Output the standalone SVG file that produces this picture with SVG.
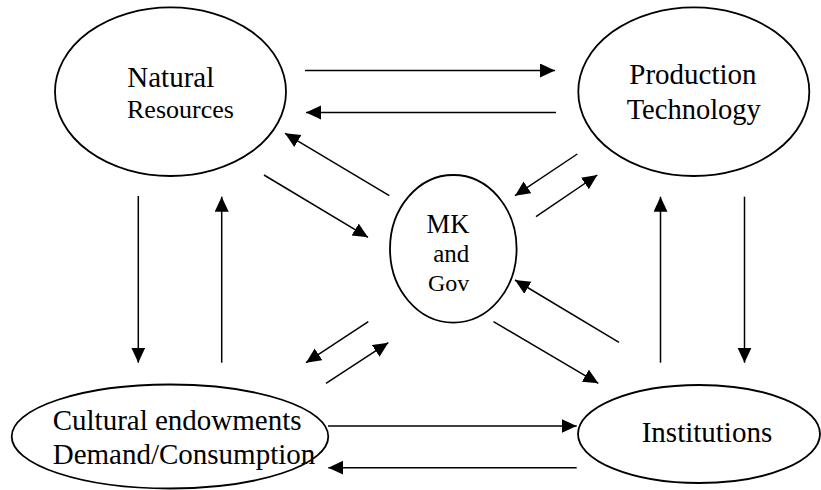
<svg xmlns="http://www.w3.org/2000/svg" width="821" height="490" viewBox="0 0 821 490">
<style>
.node{fill:#fff;stroke:#000;stroke-width:1.8}
text{font-family:'Liberation Serif','Times New Roman','DejaVu Serif',serif;fill:#000}
.c line{stroke:#000;stroke-width:1.5;marker-end:url(#ah)}
</style>
<defs>
<marker id="ah" markerUnits="userSpaceOnUse" markerWidth="16" markerHeight="15" refX="15" refY="7" orient="auto">
<path d="M0,0 L15,7 L0,14 z" fill="#000"/>
</marker>
</defs>
<rect width="821" height="490" fill="#fff"/>
<g id="natural-resources">
<ellipse class="node" cx="170.5" cy="91.7" rx="115.5" ry="84.3"/>
<text font-family="Liberation Serif, serif" x="127.3" y="86.7" font-size="29">Natural</text>
<text font-family="Liberation Serif, serif" x="127" y="118" font-size="26">Resources</text>
</g>
<g id="production-technology">
<ellipse class="node" cx="693.8" cy="91.7" rx="115.5" ry="84.3"/>
<text font-family="Liberation Serif, serif" x="629.3" y="84.3" font-size="29">Production</text>
<text font-family="Liberation Serif, serif" x="626.7" y="118.5" font-size="28.5">Technology</text>
</g>
<g id="mk-gov">
<ellipse class="node" cx="453.3" cy="248.8" rx="63.3" ry="73.8"/>
<text font-family="Liberation Serif, serif" x="469.3" y="233.3" font-size="26.5" text-anchor="end">MK</text>
<text font-family="Liberation Serif, serif" x="469.3" y="261.7" font-size="25" text-anchor="end">and</text>
<text font-family="Liberation Serif, serif" x="469.3" y="290.7" font-size="24" text-anchor="end">Gov</text>
</g>
<g id="cultural">
<ellipse class="node" cx="170" cy="436.5" rx="158.3" ry="52"/>
<text font-family="Liberation Serif, serif" x="52.7" y="430" font-size="29">Cultural endowments</text>
<text font-family="Liberation Serif, serif" x="52.7" y="464.3" font-size="29">Demand/Consumption</text>
</g>
<g id="institutions">
<ellipse class="node" cx="699" cy="434" rx="121" ry="49"/>
<text font-family="Liberation Serif, serif" x="641.7" y="441.7" font-size="29">Institutions</text>
</g>
<g id="connectors" class="c">
<line x1="305" y1="70.5" x2="555" y2="70.5"/>
<line x1="556" y1="112.5" x2="306" y2="112.5"/>
<line x1="264" y1="175" x2="368" y2="237.3"/>
<line x1="389.3" y1="195.7" x2="285" y2="133.3"/>
<line x1="577.3" y1="154" x2="515" y2="195.7"/>
<line x1="536" y1="216.7" x2="597.3" y2="175"/>
<line x1="493.5" y1="321.7" x2="598.3" y2="383.3"/>
<line x1="619" y1="342.3" x2="515" y2="280"/>
<line x1="368.3" y1="321.7" x2="306" y2="362.7"/>
<line x1="326" y1="383.3" x2="388.3" y2="342.7"/>
<line x1="138.3" y1="196" x2="138.3" y2="362.7"/>
<line x1="221.7" y1="362.7" x2="221.7" y2="196.7"/>
<line x1="328" y1="426" x2="576.7" y2="426"/>
<line x1="576.7" y1="467.7" x2="328.3" y2="467.7"/>
<line x1="660.5" y1="362.7" x2="660.5" y2="196.7"/>
<line x1="744.5" y1="196.7" x2="744.5" y2="362.7"/>
</g>
</svg>
